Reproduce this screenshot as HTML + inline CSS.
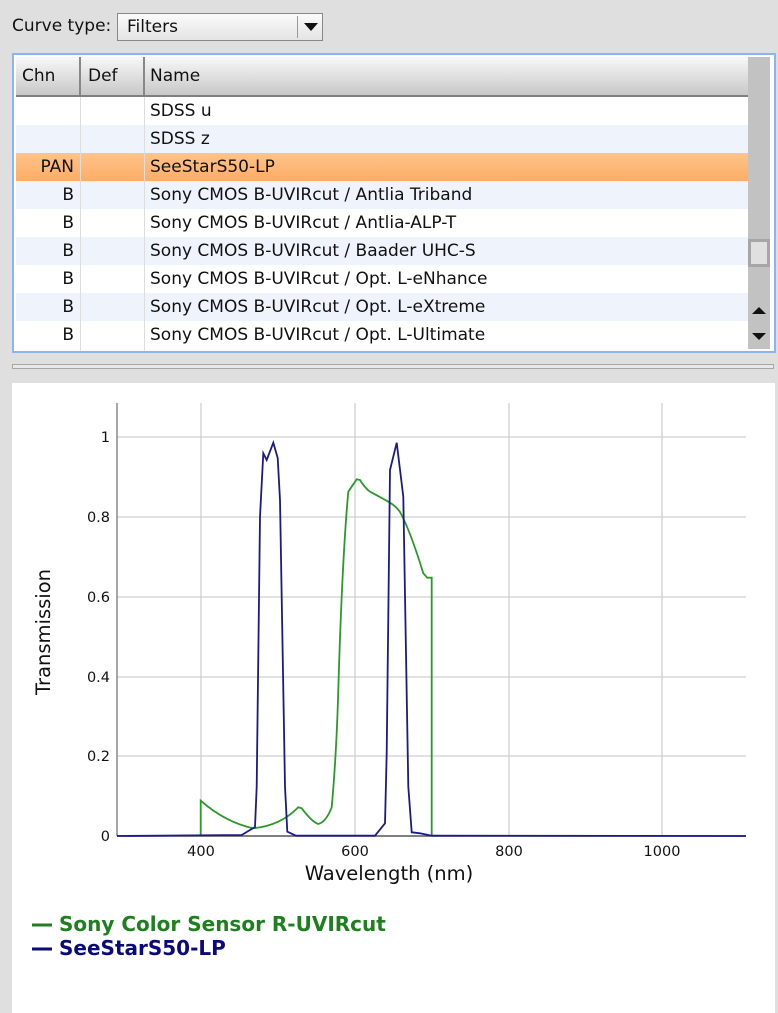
<!DOCTYPE html>
<html><head><meta charset="utf-8"><style>
body{margin:0;width:778px;height:1013px;background:#dfdfdf;font-family:"DejaVu Sans","Liberation Sans",sans-serif;position:relative;overflow:hidden;color:#111}
.abs{position:absolute}
.row{position:absolute;left:0;width:734px;height:28px;font-size:17px;line-height:28px}
.c1{position:absolute;left:0;width:58px;text-align:right}
.c3{position:absolute;left:134px}
</style></head><body>
<div class="abs" style="left:12px;top:16px;font-size:17px">Curve type:</div>
<div class="abs" style="left:117px;top:13px;width:204px;height:26px;border:1px solid #888;background:linear-gradient(#fbfbfb,#e4e4e4);font-size:17px;line-height:26px">
 <span style="margin-left:9px">Filters</span>
 <div class="abs" style="left:179px;top:2px;width:1px;height:22px;background:#999"></div>
 <div class="abs" style="left:186px;top:9px;width:0;height:0;border-left:7px solid transparent;border-right:7px solid transparent;border-top:8px solid #111"></div>
</div>
<div class="abs" style="left:12px;top:53px;width:760px;height:296px;border:2px solid #8ab4f2;background:#fff">
 <div class="abs" style="left:2px;top:2px;width:734px;height:38px;background:linear-gradient(#f8f8f8,#c8c8c8);border-bottom:2px solid #808080;font-size:17px;line-height:38px">
  <span class="abs" style="left:6px">Chn</span><span class="abs" style="left:72px">Def</span><span class="abs" style="left:134px">Name</span>
  <div class="abs" style="left:63px;top:0;width:2px;height:38px;background:#888"></div>
  <div class="abs" style="left:127px;top:0;width:2px;height:38px;background:#888"></div>
 </div>
 <div class="abs" style="left:2px;top:42px;width:734px;height:254px">
  <div class="row" style="top:0;background:#fff"><span class="c3">SDSS u</span></div>
  <div class="row" style="top:28px;background:#eff4fc"><span class="c3">SDSS z</span></div>
  <div class="row" style="top:56px;background:linear-gradient(#fdc48c,#fdac64)"><span class="c1">PAN</span><span class="c3">SeeStarS50-LP</span></div>
  <div class="row" style="top:84px;background:#eff4fc"><span class="c1">B</span><span class="c3">Sony CMOS B-UVIRcut / Antlia Triband</span></div>
  <div class="row" style="top:112px;background:#fff"><span class="c1">B</span><span class="c3">Sony CMOS B-UVIRcut / Antlia-ALP-T</span></div>
  <div class="row" style="top:140px;background:#eff4fc"><span class="c1">B</span><span class="c3">Sony CMOS B-UVIRcut / Baader UHC-S</span></div>
  <div class="row" style="top:168px;background:#fff"><span class="c1">B</span><span class="c3">Sony CMOS B-UVIRcut / Opt. L-eNhance</span></div>
  <div class="row" style="top:196px;background:#eff4fc"><span class="c1">B</span><span class="c3">Sony CMOS B-UVIRcut / Opt. L-eXtreme</span></div>
  <div class="row" style="top:224px;background:#fff"><span class="c1">B</span><span class="c3">Sony CMOS B-UVIRcut / Opt. L-Ultimate</span></div>
  <div class="abs" style="left:64px;top:0;width:1px;height:254px;background:#ddd"></div>
  <div class="abs" style="left:128px;top:0;width:1px;height:254px;background:#ddd"></div>
 </div>
 <div class="abs" style="left:734px;top:2px;width:22px;height:292px;background:#c2c2c2">
  <div class="abs" style="left:0;top:182px;width:22px;height:28px;background:#a6a6a6"><div class="abs" style="left:3px;top:3px;width:16px;height:22px;background:#e0e0e0"></div></div>
  <div class="abs" style="left:4px;top:250px;border-left:7px solid transparent;border-right:7px solid transparent;border-bottom:7px solid #111"></div>
  <div class="abs" style="left:4px;top:276px;border-left:7px solid transparent;border-right:7px solid transparent;border-top:7px solid #111"></div>
 </div>
</div>
<div class="abs" style="left:12px;top:364px;width:762px;height:5px;border:1px solid #a6a6a6;background:#e8e8e8;box-sizing:border-box"></div>
<div class="abs" style="left:12px;top:383px;width:763px;height:630px;background:#fff"></div>
<svg class="abs" style="left:0;top:0" width="778" height="1013">
 <g stroke="#cfcfcf" stroke-width="1.3">
  <line x1="117" x2="746" y1="437" y2="437"/><line x1="117" x2="746" y1="517" y2="517"/>
  <line x1="117" x2="746" y1="597" y2="597"/><line x1="117" x2="746" y1="677" y2="677"/>
  <line x1="117" x2="746" y1="756" y2="756"/>
  <line x1="201" x2="201" y1="403" y2="836"/><line x1="355" x2="355" y1="403" y2="836"/>
  <line x1="509" x2="509" y1="403" y2="836"/><line x1="662" x2="662" y1="403" y2="836"/>
 </g>
 <line x1="117" x2="117" y1="403" y2="836" stroke="#888" stroke-width="1.5"/>
 <line x1="117" x2="746" y1="836" y2="836" stroke="#555" stroke-width="1.5"/>
 <path fill="none" stroke="#2a9a2a" stroke-width="1.8" d="M200.7,835.7 L200.7,800.7 Q225,822 253,828.3 Q280,826 298.3,807.3 L301.7,808.3 Q312,822 318.3,824 Q326,822 331.7,807.3 Q336,760 338,700 Q342,560 348.3,491.7 L356.7,479.3 L360,480 Q365,488 370,491.7 Q380,497 388.3,501.7 Q396,506 400,512 Q410,530 423.3,573.3 L427.3,577.7 L431.7,577.7 L431.7,835.7"/>
 <polyline fill="none" stroke="#1a1a8c" stroke-width="1.8" points="117,836 241.7,835 255,827 256.7,786.7 260,516.7 263.3,453.3 266.7,460 273.3,442.7 277.7,458 280,500 285,786.7 287.3,831.7 296,835.7 375,835.7 385,823.3 386.7,753 390,470 396.7,442.7 403.3,496.7 408.3,786.7 411.7,832.3 420,833.3 431.7,835.7 746,836"/>
 <g font-family="DejaVu Sans,sans-serif" font-size="14.5" fill="#111" text-anchor="end">
  <text x="110" y="442">1</text><text x="110" y="522">0.8</text><text x="110" y="602">0.6</text>
  <text x="110" y="682">0.4</text><text x="110" y="761">0.2</text><text x="110" y="841">0</text>
 </g>
 <g font-family="DejaVu Sans,sans-serif" font-size="14.5" fill="#111" text-anchor="middle">
  <text x="201" y="856">400</text><text x="355" y="856">600</text><text x="509" y="856">800</text><text x="662" y="856">1000</text>
 </g>
 <text x="389" y="880" font-family="DejaVu Sans,sans-serif" font-size="19.5" fill="#111" text-anchor="middle">Wavelength (nm)</text>
 <text transform="translate(50,632) rotate(-90)" font-family="DejaVu Sans,sans-serif" font-size="19.5" fill="#111" text-anchor="middle">Transmission</text>
 <line x1="32" x2="52" y1="925" y2="925" stroke="#1e7f1e" stroke-width="3"/>
 <line x1="32" x2="52" y1="949" y2="949" stroke="#0a0a7a" stroke-width="3"/>
 <text x="59" y="931" font-family="DejaVu Sans,sans-serif" font-weight="bold" font-size="20" fill="#1e7f1e">Sony Color Sensor R-UVIRcut</text>
 <text x="59" y="955" font-family="DejaVu Sans,sans-serif" font-weight="bold" font-size="20" fill="#0a0a7a">SeeStarS50-LP</text>
</svg>
</body></html>
